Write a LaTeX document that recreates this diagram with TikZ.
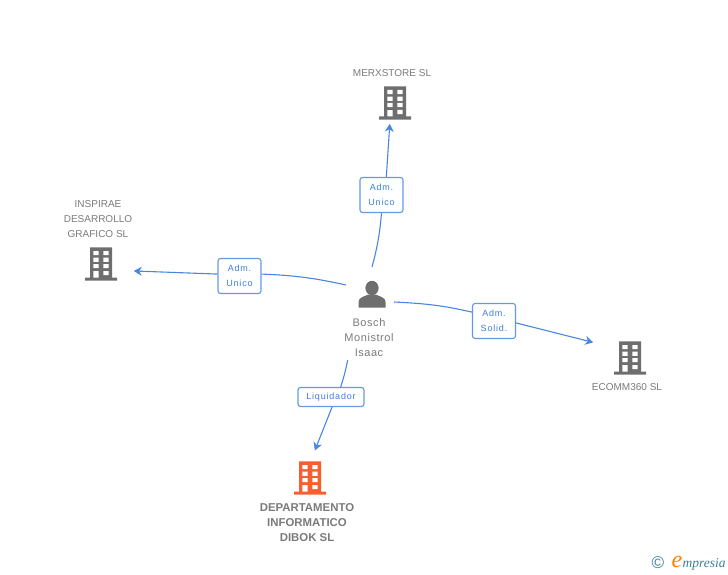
\documentclass[tikz,border=0pt]{standalone}
\usepackage{fontspec}
\setmainfont{Liberation Sans}
\newfontfamily\rolefont[LetterSpace=9]{Liberation Sans}
\newfontfamily\personfont[LetterSpace=5]{Liberation Sans}
\newfontfamily\logofont{Liberation Serif}
\usetikzlibrary{positioning, arrows.meta}
\definecolor{iconGray}{HTML}{6E6E6E}
\definecolor{iconOrange}{HTML}{F85F30}
\definecolor{linkBlue}{HTML}{4A86E0}
\definecolor{roleBlue}{HTML}{3B7FE0}
\definecolor{nameGray}{HTML}{7A7A7A}
\definecolor{logoTeal}{HTML}{3C7F95}
\tikzset{
linkline/.style={draw=linkBlue, line width=1.1pt}, % the curved lines
linkto/.style={linkline, -{Stealth[length=8pt,width=9pt]}}, % the last part, with its arrow
sitenode/.style={circle, inner sep=0pt, outer sep=0pt}, % minimum size sets where the arrow stops
rolebox/.style={draw=linkBlue!85, line width=1.1pt, fill=white, rounded corners=2.5pt, inner sep=0pt, align=center, text=roleBlue, font=\rolefont\fontsize{9}{15}\selectfont},
nametext/.style={inner sep=0pt, outer sep=0pt, align=center, text=nameGray, font=\fontsize{10}{15}\selectfont},
towericon/.pic={
  \fill[pic actions] (-11,-16.7) rectangle (11,15) (-16,13.5) rectangle (16,16.7);
  \foreach \r in {-13,-6.3,0}{
    \fill[white] (-7.6,\r) rectangle +(5.2,4.2) (2.4,\r) rectangle +(5.2,4.2);
  }
  \fill[white] (-7.6,7.2) rectangle (-2.4,13.5) (2.4,7) rectangle (7.6,11.2);
},
personicon/.pic={
  \fill[iconGray] (0,-7) ellipse (6.6 and 7.2);
  \fill[iconGray] (-13.5,12.5) -- (-13.5,7) .. controls (-13.5,2.5) and (-8,1.5) .. (-3.5,-0.5) -- (3.5,-0.5) .. controls (8,1.5) and (13.5,2.5) .. (13.5,7) -- (13.5,12.5) -- cycle;
},
}
\begin{document}
\begin{tikzpicture}[x=1pt,y=-1pt]
    \useasboundingbox (0,0) rectangle (728,575);

    \node[sitenode, minimum size=56pt] (bosch) at (372,295) {};
    \pic at (bosch) {personicon};
    \node[nametext, below=-7pt of bosch, xshift=-3pt, outer sep=3pt, font=\personfont\fontsize{11}{15}\selectfont] (boschName) {Bosch\\Monistrol\\Isaac};

    \node[sitenode, minimum size=43pt] (merx) at (395,103) {};
    \pic[fill=iconGray] at (merx) {towericon};
    \node[nametext, above=5pt of merx, xshift=-3pt] (merxName) {MERXSTORE SL};

    \node[sitenode, minimum size=67pt] (inspirae) at (101,264) {};
    \pic[fill=iconGray] at (inspirae) {towericon};
    \node[nametext, above=-7pt of inspirae, xshift=-3pt] (inspiraeName) {INSPIRAE\\DESARROLLO\\GRAFICO SL};

    \node[sitenode, minimum size=80pt] (ecomm) at (630,358) {};
    \pic[fill=iconGray] at (ecomm) {towericon};
    \node[nametext, below=-14pt of ecomm, xshift=-3pt] (ecommName) {ECOMM360 SL};

    \node[sitenode, minimum size=56pt] (dibok) at (310,478) {};
    \pic[fill=iconOrange] at (dibok) {towericon};
    \node[nametext, below=-2pt of dibok, xshift=-3pt, font=\bfseries\fontsize{11.4}{15}\selectfont] (dibokName) {DEPARTAMENTO\\INFORMATICO\\DIBOK SL};

    \node[rolebox, minimum width=43pt, minimum height=35pt] (roleMerx) at (381.5,195) {Adm.\\Unico};
    \node[rolebox, minimum width=43pt, minimum height=35pt] (roleInspirae) at (239.5,276) {Adm.\\Unico};
    \node[rolebox, minimum width=43pt, minimum height=35pt] (roleEcomm) at (494,321) {Adm.\\Solid.};
    \node[rolebox, minimum width=66pt, minimum height=19pt] (roleDibok) at (331,397) {Liquidador};

    \draw[linkline] (bosch.north) to[bend right=5] (roleMerx.south);
    \draw[linkto] (roleMerx.75) to (merx.256);
    \draw[linkline] (bosch.159) to[bend right=5] (roleInspirae.5);
    \draw[linkto] (roleInspirae.175) to (inspirae.-12);
    \draw[linkline, shorten <=-5pt] (bosch.-15) to[bend left=5] (roleEcomm.158);
    \draw[linkto] (roleEcomm.-5) to (ecomm.157);
    \draw[linkline] (boschName.226) to[bend left=3] (roleDibok.46);
    \draw[linkto] (roleDibok.-84) to (dibok.80);

    % logo in the corner
    \node[inner sep=0pt, text=logoTeal, font=\fontsize{17}{17}\selectfont] (logoMark) at (658,563) {\textcopyright};
    \node[inner sep=0pt, text=orange, font=\logofont\itshape\fontsize{24}{24}\selectfont] (logoE) at (677,562) {e};
    \node[inner sep=0pt, right=0pt of logoE, yshift=-2pt, text=logoTeal, font=\logofont\itshape\fontsize{13.5}{13.5}\selectfont] (logoRest) {mpresia};
\end{tikzpicture}
\end{document}
